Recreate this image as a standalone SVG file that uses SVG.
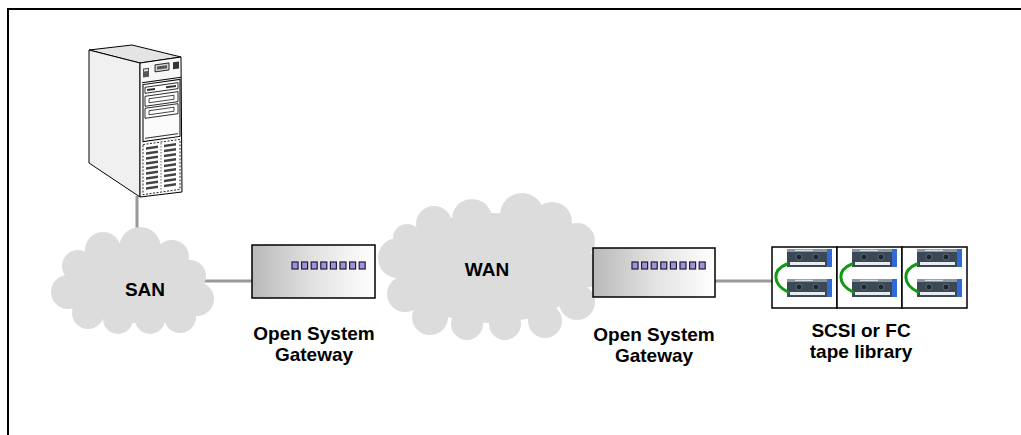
<svg xmlns="http://www.w3.org/2000/svg" width="1021" height="435" viewBox="0 0 1021 435">
  <style>
    .lbl { font-family: "Liberation Sans", Arial, sans-serif; font-weight: bold; font-size: 19px; fill: #000; text-anchor: middle; }
    .cloud { fill: #dcdcdc; }
    .wire { stroke: #999; stroke-width: 3; fill: none; }
    .gw { fill: url(#gwFill); stroke: #000; stroke-width: 1.5; }
    .led { fill: #a890d8; stroke: #1c1c3c; stroke-width: 1.2; }
    .edge { stroke: #000; stroke-width: 1; stroke-linejoin: round; }
    .cell { fill: #fff; stroke: #000; stroke-width: 1.5; }
    .loop { stroke: #0e9a12; stroke-width: 3; fill: none; stroke-linecap: round; }
  </style>
  <defs>
    <linearGradient id="gwFill" x1="0" y1="0" x2="1" y2="0">
      <stop offset="0" stop-color="#b9b9b9"/>
      <stop offset="0.5" stop-color="#e2e2e2"/>
      <stop offset="1" stop-color="#ffffff"/>
    </linearGradient>
    <!-- LED strip on the gateway front -->
    <g id="leds">
      <rect class="led" x="0" y="0" width="6" height="7"/>
      <rect class="led" x="9.6" y="0" width="6" height="7"/>
      <rect class="led" x="19.2" y="0" width="6" height="7"/>
      <rect class="led" x="28.8" y="0" width="6" height="7"/>
      <rect class="led" x="38.4" y="0" width="6" height="7"/>
      <rect class="led" x="48" y="0" width="6" height="7"/>
      <rect class="led" x="57.6" y="0" width="6" height="7"/>
      <rect class="led" x="67.2" y="0" width="6" height="7"/>
    </g>
    <!-- tape cartridge, 45 x 18 -->
    <g id="cart">
      <rect x="0" y="0" width="45" height="18" fill="#3b4957"/>
      <rect x="0" y="0" width="45" height="3" fill="#8a96a2"/>
      <rect x="8" y="0.8" width="18" height="1.2" fill="#d6dce2"/>
      <rect x="40" y="0" width="5" height="18" fill="#2f6ad6"/>
      <rect x="3" y="13" width="35" height="3" fill="#e8ecef"/>
      <circle cx="12" cy="8" r="3" fill="#1c242c" stroke="#6b7783" stroke-width="0.8"/>
      <circle cx="29" cy="8" r="3" fill="#1c242c" stroke="#6b7783" stroke-width="0.8"/>
    </g>
  </defs>

  <rect x="0" y="0" width="1021" height="435" fill="#fff"/>
  <!-- page frame -->
  <rect x="8" y="9" width="1030" height="440" fill="none" stroke="#000" stroke-width="2"/>

  <!-- connectors -->
  <g id="connectors">
    <line class="wire" x1="137" y1="196" x2="137" y2="240"/>
    <line class="wire" x1="200" y1="281" x2="252" y2="281"/>
    <line class="wire" x1="714" y1="281" x2="772" y2="281"/>
  </g>

  <!-- SAN cloud -->
  <g id="san">
    <g class="cloud">
      <ellipse cx="133" cy="285" rx="64" ry="38"/>
      <circle cx="68" cy="292" r="17"/>
      <circle cx="78" cy="266" r="16"/>
      <circle cx="103" cy="250" r="18"/>
      <circle cx="140" cy="248" r="21"/>
      <circle cx="172" cy="257" r="17"/>
      <circle cx="190" cy="276" r="16"/>
      <circle cx="197" cy="299" r="17"/>
      <circle cx="180" cy="317" r="16"/>
      <circle cx="150" cy="319" r="15"/>
      <circle cx="118" cy="319" r="15"/>
      <circle cx="88" cy="313" r="16"/>
    </g>
    <text class="lbl" x="145" y="296">SAN</text>
  </g>

  <!-- WAN cloud -->
  <g id="wan">
    <g class="cloud">
      <ellipse cx="491" cy="268" rx="95" ry="55"/>
      <circle cx="398" cy="258" r="20"/>
      <circle cx="405" cy="294" r="18"/>
      <circle cx="430" cy="317" r="18"/>
      <circle cx="467" cy="324" r="16"/>
      <circle cx="505" cy="324" r="16"/>
      <circle cx="545" cy="321" r="17"/>
      <circle cx="577" cy="302" r="18"/>
      <circle cx="588" cy="270" r="17"/>
      <circle cx="577" cy="241" r="18"/>
      <circle cx="552" cy="222" r="20"/>
      <circle cx="522" cy="215" r="22"/>
      <circle cx="472" cy="219" r="20"/>
      <circle cx="434" cy="224" r="18"/>
      <circle cx="407" cy="238" r="14"/>
    </g>
    <text class="lbl" x="487" y="276">WAN</text>
  </g>

  <!-- host server tower -->
  <g id="server">
    <polygon class="edge" points="89,50 132,45 181,57 140,63" fill="#e4e4e4"/>
    <polygon class="edge" points="89,50 140,63 140,197 89,163" fill="#f0f0f0"/>
    <polygon class="edge" points="140,63 181,57 182,192 140,197" fill="#f7f7f7"/>
    <g transform="translate(140,63) skewY(-8)">
      <!-- control panel -->
      <rect x="3" y="6" width="6" height="9" fill="#555"/>
      <rect x="4" y="7" width="4" height="2" fill="#ddd"/>
      <rect x="15" y="4" width="14" height="7" fill="#d0d0d0" stroke="#000" stroke-width="0.8"/>
      <rect x="17" y="6" width="10" height="3" fill="#555"/>
      <rect x="33" y="4" width="6" height="7" fill="#333"/>
      <line x1="2" y1="20" x2="41" y2="20" stroke="#000" stroke-width="1"/>
      <!-- drive bays -->
      <rect x="3" y="22" width="37" height="57" fill="#fbfbfb" stroke="#000" stroke-width="1"/>
      <rect x="5" y="25" width="33" height="6" fill="#fff" stroke="#000" stroke-width="0.8"/>
      <rect x="7" y="27" width="8" height="2" fill="#333"/>
      <rect x="26" y="27" width="10" height="2" fill="#333"/>
      <rect x="5" y="34" width="33" height="10" fill="#fff" stroke="#000" stroke-width="0.8"/>
      <rect x="9" y="37" width="25" height="4" fill="#fff" stroke="#000" stroke-width="0.7"/>
      <rect x="5" y="46" width="33" height="10" fill="#fff" stroke="#000" stroke-width="0.8"/>
      <rect x="9" y="49" width="25" height="4" fill="#fff" stroke="#000" stroke-width="0.7"/>
      <line x1="5" y1="76" x2="38" y2="76" stroke="#000" stroke-width="0.8"/>
      <!-- ventilation grille -->
      <rect x="3" y="82" width="37" height="50" fill="#fff" stroke="#000" stroke-width="0.8" stroke-dasharray="2 1.5"/>
      <g fill="#444">
        <rect x="6" y="85" width="12" height="2.5"/><rect x="24" y="85" width="12" height="2.5"/>
        <rect x="6" y="90" width="12" height="2.5"/><rect x="24" y="90" width="12" height="2.5"/>
        <rect x="6" y="95" width="12" height="2.5"/><rect x="24" y="95" width="12" height="2.5"/>
        <rect x="6" y="100" width="12" height="2.5"/><rect x="24" y="100" width="12" height="2.5"/>
        <rect x="6" y="105" width="12" height="2.5"/><rect x="24" y="105" width="12" height="2.5"/>
        <rect x="6" y="110" width="12" height="2.5"/><rect x="24" y="110" width="12" height="2.5"/>
        <rect x="6" y="115" width="12" height="2.5"/><rect x="24" y="115" width="12" height="2.5"/>
        <rect x="6" y="120" width="12" height="2.5"/><rect x="24" y="120" width="12" height="2.5"/>
        <rect x="6" y="125" width="12" height="2.5"/><rect x="24" y="125" width="12" height="2.5"/>
      </g>
      <line x1="21" y1="83" x2="21" y2="131" stroke="#000" stroke-width="0.6" stroke-dasharray="1.5 1.5"/>
    </g>
  </g>

  <!-- gateway, SAN side -->
  <g id="gateway-left">
    <rect class="gw" x="252" y="245" width="123" height="53"/>
    <use href="#leds" x="292" y="262"/>
    <text class="lbl" x="314" y="340">Open System</text>
    <text class="lbl" x="314" y="361">Gateway</text>
  </g>

  <!-- gateway, library side -->
  <g id="gateway-right">
    <rect class="gw" x="593" y="248" width="122" height="49"/>
    <use href="#leds" x="632" y="262"/>
    <text class="lbl" x="654" y="341">Open System</text>
    <text class="lbl" x="654" y="362">Gateway</text>
  </g>

  <!-- tape library, three cells -->
  <g id="tape-library">
    <rect class="cell" x="772" y="247" width="65" height="61"/>
    <rect class="cell" x="837" y="247" width="65" height="61"/>
    <rect class="cell" x="902" y="247" width="65" height="61"/>
    <use href="#cart" x="787" y="249"/>
    <use href="#cart" x="787" y="279"/>
    <use href="#cart" x="852" y="249"/>
    <use href="#cart" x="852" y="279"/>
    <use href="#cart" x="917" y="249"/>
    <use href="#cart" x="917" y="279"/>
    <path class="loop" d="M787,264 C772,270 772,284 788,292"/>
    <path class="loop" d="M852,264 C837,270 837,284 853,292"/>
    <path class="loop" d="M917,264 C902,270 902,284 918,292"/>
    <text class="lbl" x="861" y="337">SCSI or FC</text>
    <text class="lbl" x="861" y="358">tape library</text>
  </g>
</svg>
